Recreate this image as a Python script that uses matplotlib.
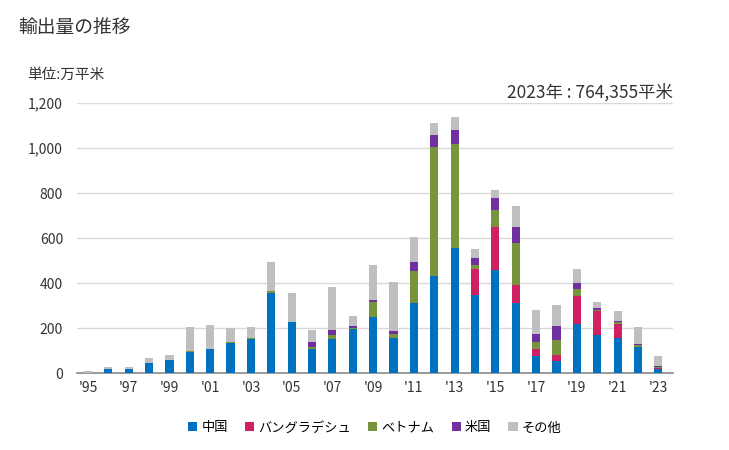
import numpy as np
import matplotlib.pyplot as plt

plt.rcParams['font.family'] = ['Noto Sans CJK JP', 'DejaVu Sans']

years = list(range(1995, 2024))
china = [0, 20, 18, 46, 58, 95, 105, 135, 152, 358, 225, 108, 152, 197, 250, 157, 312, 433, 557,
         348, 460, 312, 77, 53, 220, 169, 158, 117, 18]
bangladesh = [0, 0, 0, 0, 0, 0, 0, 0, 0, 0, 0, 0, 0, 0, 0, 0, 0, 0, 0,
              116, 190, 80, 31, 27, 123, 107, 61, 0, 6]
vietnam = [0, 0, 0, 0, 0, 3, 3, 4, 5, 5, 0, 9, 18, 4, 67, 18, 142, 573, 462,
           18, 76, 187, 31, 67, 31, 4, 9, 8, 5]
usa = [0, 0, 0, 0, 0, 0, 0, 0, 0, 0, 4, 22, 22, 9, 9, 13, 40, 53, 62,
       31, 53, 71, 36, 62, 26, 9, 4, 6, 4]
other = [8, 5, 10, 22, 22, 107, 106, 61, 48, 132, 128, 52, 191, 45, 155, 217, 111, 53, 58,
         40, 36, 93, 106, 93, 63, 27, 44, 74, 43]

series = [("中国", china, "#0070C0"),
          ("バングラデシュ", bangladesh, "#D01F63"),
          ("ベトナム", vietnam, "#77933C"),
          ("米国", usa, "#7030A0"),
          ("その他", other, "#BFBFBF")]

fig = plt.figure(figsize=(7.29, 4.5), dpi=100)
ax = fig.add_axes([0.1056, 0.171, 0.817, 0.6])

x = np.arange(len(years))
bottom = np.zeros(len(years))
for name, vals, col in series:
    ax.bar(x, vals, 0.4, bottom=bottom, color=col, label=name, zorder=3)
    bottom += np.array(vals)

ax.set_xlim(-0.54, 28.7)
ax.set_ylim(0, 1200)
ax.set_yticks(range(0, 1201, 200))
ax.set_yticklabels([f"{v:,}" for v in range(0, 1201, 200)])
ax.set_xticks(x[::2])
ax.set_xticklabels([f"'{str(y)[2:]}" for y in years[::2]])
ax.grid(axis='y', color='#D9D9D9', lw=1, zorder=0)
for s in ['top', 'right', 'left']:
    ax.spines[s].set_visible(False)
ax.spines['bottom'].set_color('#898989')
ax.spines['bottom'].set_linewidth(1.2)
ax.tick_params(length=0, labelsize=10, colors='#333333')
ax.tick_params(axis='x', pad=6)
ax.tick_params(axis='y', pad=10)

fig.text(0.025, 0.94, "輸出量の推移", fontsize=13.5, color='#333333', va='center')
fig.text(0.037, 0.833, "単位:万平米", fontsize=10.5, color='#333333', va='center')
fig.text(0.923, 0.795, "2023年 : 764,355平米", fontsize=12.5, color='#333333', va='center', ha='right')

ax.legend(loc='upper center', bbox_to_anchor=(0.5, -0.135), ncol=5, frameon=False,
          handlelength=0.7, handleheight=0.7, handletextpad=0.3, columnspacing=1.3,
          fontsize=9.5)

fig.savefig("out.png", dpi=100)
